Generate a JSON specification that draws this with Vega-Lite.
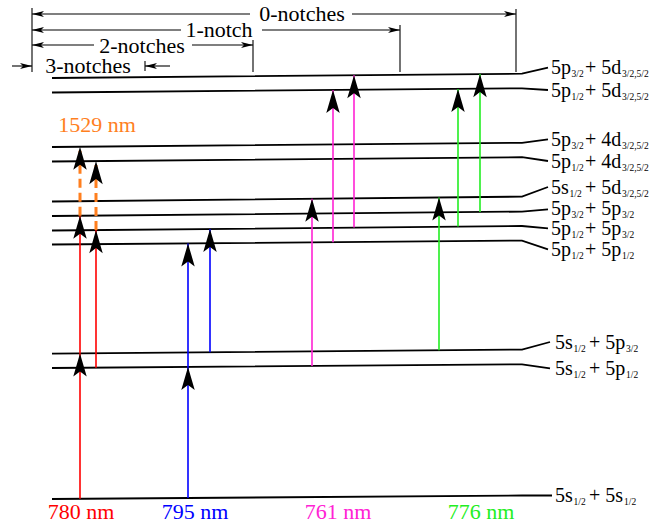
{
  "$schema": "https://vega.github.io/schema/vega-lite/v6.json",
  "width": 664,
  "height": 524,
  "autosize": {"type": "none"},
  "padding": 0,
  "background": "white",
  "config": {"view": {"stroke": null}},
  "datasets": {
    "levels": [
      {"lv": 1, "x": 52, "y": 78}, {"lv": 1, "x": 522, "y": 73.7}, {"lv": 1, "x": 548, "y": 67.7},
      {"lv": 2, "x": 52, "y": 92.5}, {"lv": 2, "x": 522, "y": 88.3}, {"lv": 2, "x": 548, "y": 90},
      {"lv": 3, "x": 52, "y": 147}, {"lv": 3, "x": 522, "y": 142.8}, {"lv": 3, "x": 548, "y": 139.3},
      {"lv": 4, "x": 52, "y": 161.5}, {"lv": 4, "x": 522, "y": 157.2}, {"lv": 4, "x": 548, "y": 161},
      {"lv": 5, "x": 52, "y": 201.5}, {"lv": 5, "x": 522, "y": 196.6}, {"lv": 5, "x": 548, "y": 187},
      {"lv": 6, "x": 52, "y": 216}, {"lv": 6, "x": 522, "y": 211.6}, {"lv": 6, "x": 548, "y": 209.3},
      {"lv": 7, "x": 52, "y": 230.5}, {"lv": 7, "x": 522, "y": 226}, {"lv": 7, "x": 548, "y": 228.3},
      {"lv": 8, "x": 52, "y": 244.5}, {"lv": 8, "x": 522, "y": 240.6}, {"lv": 8, "x": 548, "y": 249.3},
      {"lv": 9, "x": 52, "y": 353.7}, {"lv": 9, "x": 522, "y": 349.6}, {"lv": 9, "x": 550, "y": 342},
      {"lv": 10, "x": 52, "y": 368}, {"lv": 10, "x": 522, "y": 364.3}, {"lv": 10, "x": 550, "y": 368.3},
      {"lv": 11, "x": 52, "y": 499}, {"lv": 11, "x": 522, "y": 495.5}, {"lv": 11, "x": 552, "y": 495.5}
    ],
    "arrows": [
      {"beam": "780 nm", "x": 80, "y": 498.8, "y2": 353.5},
      {"beam": "780 nm", "x": 80, "y": 353.5, "y2": 215.7},
      {"beam": "780 nm", "x": 96, "y": 367.7, "y2": 230.1},
      {"beam": "1529 nm", "x": 80, "y": 215.7, "y2": 146.7},
      {"beam": "1529 nm", "x": 96, "y": 230.1, "y2": 161.1},
      {"beam": "795 nm", "x": 188, "y": 498, "y2": 366.9},
      {"beam": "795 nm", "x": 188, "y": 366.9, "y2": 243.4},
      {"beam": "795 nm", "x": 210, "y": 352.3, "y2": 229},
      {"beam": "761 nm", "x": 312, "y": 366, "y2": 198.8},
      {"beam": "761 nm", "x": 333, "y": 242.2, "y2": 90},
      {"beam": "761 nm", "x": 354, "y": 227.6, "y2": 75.2},
      {"beam": "776 nm", "x": 439, "y": 350.3, "y2": 197.5},
      {"beam": "776 nm", "x": 458, "y": 226.6, "y2": 88.9},
      {"beam": "776 nm", "x": 480, "y": 212, "y2": 74.1}
    ],
    "dims": [
      {"x": 32, "x2": 250, "y": 14, "y2": 14}, {"x": 352, "x2": 516, "y": 14, "y2": 14},
      {"x": 32, "x2": 181, "y": 30, "y2": 30}, {"x": 262, "x2": 400, "y": 30, "y2": 30},
      {"x": 32, "x2": 94, "y": 45, "y2": 45}, {"x": 192, "x2": 253, "y": 45, "y2": 45},
      {"x": 12, "x2": 32, "y": 66, "y2": 66}, {"x": 145, "x2": 170, "y": 66, "y2": 66},
      {"x": 32, "x2": 32, "y": 8, "y2": 72}, {"x": 516, "x2": 516, "y": 9, "y2": 72},
      {"x": 400, "x2": 400, "y": 25, "y2": 72}, {"x": 253, "x2": 253, "y": 40, "y2": 72},
      {"x": 145, "x2": 145, "y": 61, "y2": 71}
    ],
    "dimheads": [
      {"x": 516, "y": 14, "dir": "right"}, {"x": 400, "y": 30, "dir": "right"},
      {"x": 253, "y": 45, "dir": "right"}, {"x": 32, "y": 66, "dir": "right"},
      {"x": 32, "y": 14, "dir": "left"}, {"x": 32, "y": 30, "dir": "left"},
      {"x": 32, "y": 45, "dir": "left"}, {"x": 145, "y": 66, "dir": "left"}
    ],
    "labels": [
      {"t": "5p", "x": 551, "y": 74}, {"t": "+ 5d", "x": 585, "y": 74},
      {"t": "5p", "x": 551, "y": 96.5}, {"t": "+ 5d", "x": 585, "y": 96.5},
      {"t": "5p", "x": 551, "y": 146}, {"t": "+ 4d", "x": 585, "y": 146},
      {"t": "5p", "x": 551, "y": 167.5}, {"t": "+ 4d", "x": 585, "y": 167.5},
      {"t": "5s", "x": 551, "y": 193.5}, {"t": "+ 5d", "x": 585, "y": 193.5},
      {"t": "5p", "x": 551, "y": 214.5}, {"t": "+ 5p", "x": 585, "y": 214.5},
      {"t": "5p", "x": 551, "y": 235}, {"t": "+ 5p", "x": 585, "y": 235},
      {"t": "5p", "x": 551, "y": 256}, {"t": "+ 5p", "x": 585, "y": 256},
      {"t": "5s", "x": 555, "y": 348.5}, {"t": "+ 5p", "x": 589, "y": 348.5},
      {"t": "5s", "x": 555, "y": 375}, {"t": "+ 5p", "x": 589, "y": 375},
      {"t": "5s", "x": 555, "y": 502}, {"t": "+ 5s", "x": 589, "y": 502}
    ],
    "subs": [
      {"t": "3/2", "x": 571.5, "y": 77}, {"t": "3/2,5/2", "x": 622, "y": 77},
      {"t": "1/2", "x": 571.5, "y": 99.5}, {"t": "3/2,5/2", "x": 622, "y": 99.5},
      {"t": "3/2", "x": 571.5, "y": 149}, {"t": "3/2,5/2", "x": 622, "y": 149},
      {"t": "1/2", "x": 571.5, "y": 170.5}, {"t": "3/2,5/2", "x": 622, "y": 170.5},
      {"t": "1/2", "x": 569.5, "y": 196.5}, {"t": "3/2,5/2", "x": 622, "y": 196.5},
      {"t": "3/2", "x": 571.5, "y": 217.5}, {"t": "3/2", "x": 622, "y": 217.5},
      {"t": "1/2", "x": 571.5, "y": 238}, {"t": "3/2", "x": 622, "y": 238},
      {"t": "1/2", "x": 571.5, "y": 259}, {"t": "1/2", "x": 622, "y": 259},
      {"t": "1/2", "x": 573.5, "y": 351.5}, {"t": "3/2", "x": 626, "y": 351.5},
      {"t": "1/2", "x": 573.5, "y": 378}, {"t": "1/2", "x": 626, "y": 378},
      {"t": "1/2", "x": 573.5, "y": 505}, {"t": "1/2", "x": 624, "y": 505}
    ],
    "notes": [
      {"t": "0-notches", "x": 302, "y": 21},
      {"t": "1-notch", "x": 219, "y": 37},
      {"t": "2-notches", "x": 142, "y": 53},
      {"t": "3-notches", "x": 88, "y": 73}
    ],
    "beams": [
      {"beam": "780 nm", "x": 81, "y": 519},
      {"beam": "795 nm", "x": 195, "y": 519},
      {"beam": "761 nm", "x": 338, "y": 519},
      {"beam": "776 nm", "x": 481, "y": 519},
      {"beam": "1529 nm", "x": 97, "y": 132}
    ]
  },
  "encoding": {
    "x": {"field": "x", "type": "quantitative", "scale": {"domain": [0, 664], "nice": false, "zero": false}, "axis": null},
    "y": {"field": "y", "type": "quantitative", "scale": {"domain": [0, 524], "nice": false, "zero": false, "reverse": true}, "axis": null}
  },
  "layer": [
    {
      "data": {"name": "levels"},
      "mark": {"type": "line", "color": "#000000", "strokeWidth": 1.8},
      "encoding": {
        "detail": {"field": "lv", "type": "nominal"},
        "order": {"field": "x", "type": "quantitative"}
      }
    },
    {
      "data": {"name": "dims"},
      "mark": {"type": "rule", "color": "#000000", "strokeWidth": 1.1},
      "encoding": {
        "x2": {"field": "x2"},
        "y2": {"field": "y2"}
      }
    },
    {
      "data": {"name": "dimheads"},
      "transform": [{"filter": "datum.dir === 'right'"}],
      "mark": {"type": "point", "shape": "M0,0 L-2.4,-0.6 L-1.8,0 L-2.4,0.6 Z", "filled": true, "size": 100, "color": "#000000", "opacity": 1, "strokeWidth": 0}
    },
    {
      "data": {"name": "dimheads"},
      "transform": [{"filter": "datum.dir === 'left'"}],
      "mark": {"type": "point", "shape": "M0,0 L2.4,-0.6 L1.8,0 L2.4,0.6 Z", "filled": true, "size": 100, "color": "#000000", "opacity": 1, "strokeWidth": 0}
    },
    {
      "data": {"name": "arrows"},
      "transform": [{"filter": "datum.beam !== '1529 nm'"}],
      "mark": {"type": "rule", "strokeWidth": 1.6},
      "encoding": {
        "y2": {"field": "y2"},
        "color": {"field": "beam", "type": "nominal", "legend": null,
          "scale": {"domain": ["780 nm", "795 nm", "761 nm", "776 nm", "1529 nm"], "range": ["#ff0000", "#0000ff", "#ff22d4", "#22ee22", "#ff7f1e"]}}
      }
    },
    {
      "data": {"name": "arrows"},
      "transform": [{"filter": "datum.beam === '1529 nm'"}],
      "mark": {"type": "rule", "strokeWidth": 3, "strokeDash": [9, 5]},
      "encoding": {
        "y2": {"field": "y2"},
        "color": {"field": "beam", "type": "nominal", "legend": null}
      }
    },
    {
      "data": {"name": "arrows"},
      "mark": {"type": "point", "shape": "M0,0 L0.56,1.92 L0,1.5 L-0.56,1.92 Z", "filled": true, "size": 576, "color": "#000000", "opacity": 1, "strokeWidth": 0},
      "encoding": {
        "y": {"field": "y2", "type": "quantitative"}
      }
    },
    {
      "data": {"name": "labels"},
      "mark": {"type": "text", "font": "Liberation Serif", "fontSize": 20, "align": "left", "baseline": "alphabetic", "color": "#000000"},
      "encoding": {"text": {"field": "t"}}
    },
    {
      "data": {"name": "subs"},
      "mark": {"type": "text", "font": "Liberation Serif", "fontSize": 9.5, "align": "left", "baseline": "alphabetic", "color": "#000000"},
      "encoding": {"text": {"field": "t"}}
    },
    {
      "data": {"name": "notes"},
      "mark": {"type": "text", "font": "Liberation Serif", "fontSize": 22, "align": "center", "baseline": "alphabetic", "color": "#000000"},
      "encoding": {"text": {"field": "t"}}
    },
    {
      "data": {"name": "beams"},
      "mark": {"type": "text", "font": "Liberation Serif", "fontSize": 22, "align": "center", "baseline": "alphabetic"},
      "encoding": {
        "text": {"field": "beam"},
        "color": {"field": "beam", "type": "nominal", "legend": null}
      }
    }
  ]
}
